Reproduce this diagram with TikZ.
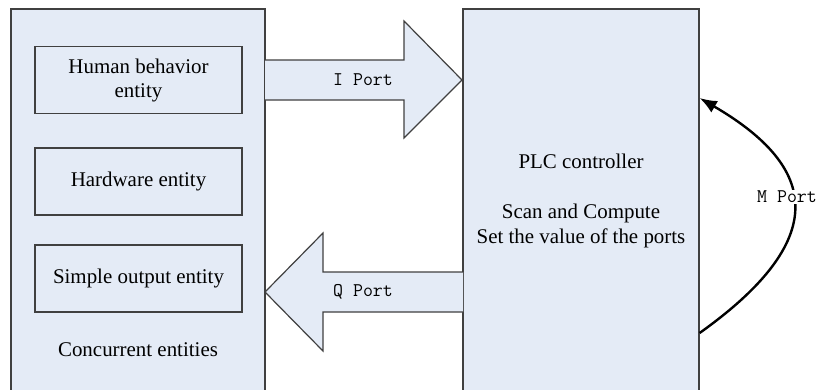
\documentclass[tikz,border=0pt]{standalone}
\usepackage{fontspec}
\setmainfont{Liberation Serif}
\usetikzlibrary{arrows.meta}
\definecolor{boxfill}{RGB}{228,235,246}
\definecolor{boxline}{RGB}{64,64,64}
\tikzset{
  bigbox/.style={draw=boxline, fill=boxfill, line width=0.9pt, rectangle, inner sep=0pt},
  entbox/.style={draw=boxline, fill=boxfill, line width=0.9pt, rectangle, inner sep=0pt,
    minimum width=207*0.75pt, minimum height=67*0.75pt, align=center,
    font=\fontsize{15.7pt}{18pt}\selectfont},
  lbl/.style={font=\fontsize{15.7pt}{18.75pt}\selectfont, align=center, inner sep=0pt},
  portlbl/.style={font=\ttfamily\fontsize{14.5pt}{16pt}\selectfont, inner sep=1pt},
  bigarrow/.style={draw=boxline, fill=boxfill, line width=0.9pt, line join=miter},
  mcurve/.style={black, line width=1.8pt, -{Latex[length=13pt,width=10pt]}}
}
\begin{document}
\begin{tikzpicture}[x=0.75pt,y=-0.75pt]
\useasboundingbox (0,0) rectangle (820,389);
\begin{scope}
\clip (0,0) rectangle (820,389);
% big boxes
\node[bigbox, minimum width=254*0.75pt, minimum height=386*0.75pt] (conc) at (138,202) {};
\node[bigbox, minimum width=236*0.75pt, minimum height=386*0.75pt] (plc) at (581,202) {};
\end{scope}
% entity boxes
\node[entbox] (human) at (138.5,80) {Human behavior\\entity};
\node[entbox] (hw) at (138.5,181.5) {Hardware entity};
\node[entbox] (simple) at (138.5,278.5) {Simple output entity};
\node[lbl] (conclbl) at (138,350) {Concurrent entities};
\node[lbl] (plclbl) at (581,201) {PLC controller\\[18.75pt]Scan and Compute\\Set the value of the ports};
% I port arrow (conc -> plc)
\filldraw[bigarrow] (265,60) -- (404,60) -- (404,21) -- (462,80) -- (404,138) -- (404,100) -- (265,100);
\node[portlbl] (iport) at (363,80) {I Port};
% Q port arrow (plc -> conc)
\filldraw[bigarrow] (463,272) -- (323,272) -- (323,233) -- (265,292) -- (323,351) -- (323,312) -- (463,312);
\node[portlbl] (qport) at (363,292) {Q Port};
% M port
\coordinate (mS) at (plc.east |- 0,333);
\coordinate (mT) at (plc.east |- 0,98);
\draw[mcurve] (mS) .. controls (830,240) and (820,168) .. (mT);
\node[portlbl, fill=white] (mport) at (787,197) {M Port};
\end{tikzpicture}
\end{document}
